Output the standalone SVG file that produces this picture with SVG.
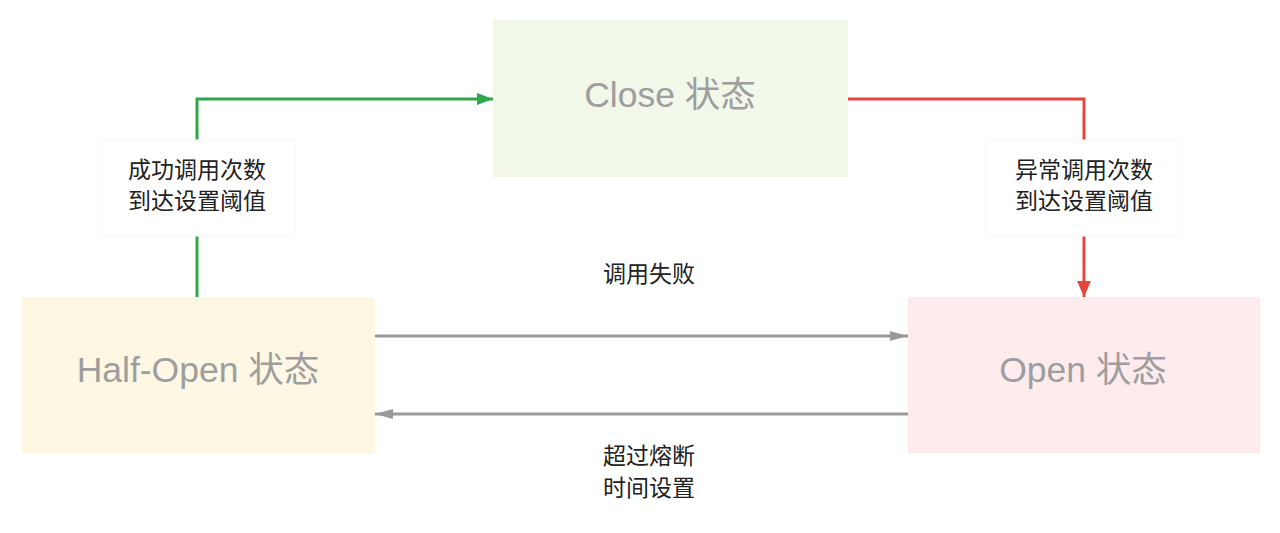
<svg xmlns="http://www.w3.org/2000/svg" width="1280" height="533" viewBox="0 0 1280 533">
<style>
.state{font-family:"Liberation Sans","Noto Sans CJK SC",sans-serif;font-size:35.5px;fill:#9e9e9e;text-anchor:middle;dominant-baseline:central}
.lbl{font-family:"Noto Sans CJK SC",sans-serif;font-size:23px;fill:#222;text-anchor:middle;dominant-baseline:central}
.lblbox{fill:#fff;stroke:#f8f8f8;stroke-width:1}
.ln{fill:none;stroke-width:3}
</style>
<defs>
<marker id="ag" viewBox="0 0 16 12" refX="16" refY="6" markerWidth="16" markerHeight="12" orient="auto" markerUnits="userSpaceOnUse"><path d="M0,0 L16,6 L0,12 z" fill="#2ea84a"/></marker>
<marker id="ar" viewBox="0 0 16 14" refX="16" refY="7" markerWidth="16" markerHeight="14" orient="auto" markerUnits="userSpaceOnUse"><path d="M0,0 L16,7 L0,14 z" fill="#e8453c"/></marker>
<marker id="ay" viewBox="0 0 18 10" refX="18" refY="5" markerWidth="18" markerHeight="10" orient="auto" markerUnits="userSpaceOnUse"><path d="M0,0 L18,5 L0,10 z" fill="#9a9a9a"/></marker>
</defs>
<rect width="1280" height="533" fill="#fff"/>
<g id="connectors">
<path class="ln" d="M197,297 V99 H493" stroke="#2ea84a" marker-end="url(#ag)"/>
<path class="ln" d="M848,99 H1084 V297" stroke="#e8453c" marker-end="url(#ar)"/>
<path class="ln" d="M375,336 H908" stroke="#9a9a9a" marker-end="url(#ay)"/>
<path class="ln" d="M908,414 H375" stroke="#9a9a9a" marker-end="url(#ay)"/>
</g>
<g id="label-success">
<rect class="lblbox" x="100" y="140" width="195" height="96"/>
<text class="lbl" x="197" y="168">成功调用次数</text>
<text class="lbl" x="197" y="199">到达设置阈值</text>
</g>
<g id="label-error">
<rect class="lblbox" x="986" y="140" width="195" height="96"/>
<text class="lbl" x="1084" y="168">异常调用次数</text>
<text class="lbl" x="1084" y="199">到达设置阈值</text>
</g>
<g id="label-fail">
<text class="lbl" x="649" y="272">调用失败</text>
</g>
<g id="label-timeout">
<text class="lbl" x="649" y="454">超过熔断</text>
<text class="lbl" x="649" y="486">时间设置</text>
</g>
<g id="close">
<rect x="493" y="20" width="355" height="157" fill="#f1f7e9"/>
<text class="state" x="670" y="95">Close 状态</text>
</g>
<g id="halfopen">
<rect x="22" y="297" width="353" height="156" fill="#fdf7e3"/>
<text class="state" x="198" y="370">Half-Open 状态</text>
</g>
<g id="open">
<rect x="908" y="297" width="352" height="156" fill="#fdebee"/>
<text class="state" x="1083" y="370">Open 状态</text>
</g>
</svg>
